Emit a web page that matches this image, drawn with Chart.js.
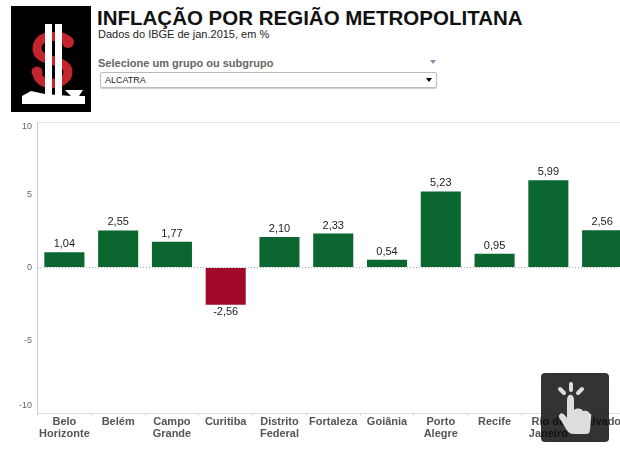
<!DOCTYPE html>
<html lang="pt">
<head>
<meta charset="utf-8">
<title>Inflação por região metropolitana</title>
<script src="https://cdn.jsdelivr.net/npm/chart.js@4/dist/chart.umd.min.js"></script>
<style>
    html, body { margin: 0; padding: 0; width: 620px; height: 455px; overflow: hidden; background: #fff; font-family: "Liberation Sans", Arial, sans-serif; }
    #logo { position: absolute; left: 11px; top: 6px; }
    h1 { position: absolute; left: 97px; top: 7px; margin: 0; font-size: 20.5px; line-height: 22px; font-weight: bold; color: #111; white-space: nowrap; }
    #sub { position: absolute; left: 98px; top: 28px; font-size: 11px; line-height: 13px; color: #222; }
    #filtro { position: absolute; left: 98px; top: 57px; font-size: 11px; line-height: 13px; font-weight: bold; color: #666; }
    #seta { position: absolute; left: 430px; top: 60px; width: 0; height: 0; border-left: 3px solid transparent; border-right: 3px solid transparent; border-top: 4px solid #8a8ab0; }
    #combo { position: absolute; left: 100px; top: 72px; width: 337px; height: 16px; box-sizing: border-box; border: 1px solid #bbb; border-radius: 2px; box-shadow: 0 1px 1px #ccc; font-size: 9px; line-height: 14px; padding-left: 4px; color: #222; }
    #combo i { position: absolute; right: 4px; top: 5px; width: 0; height: 0; border-left: 3px solid transparent; border-right: 3px solid transparent; border-top: 4px solid #000; }
    #chart-box { position: absolute; left: 0; top: 110px; width: 640px; height: 345px; }
    #caixa { position: absolute; left: 541px; top: 373px; width: 68px; height: 69px; border-radius: 4px; background: #333; mix-blend-mode: multiply; }
    #hand { position: absolute; left: 541px; top: 373px; }
</style>
</head>
<body>
<svg id="logo" width="80" height="106" viewBox="0 0 80 106">
    <rect width="80" height="106" fill="#000"/>
    <path d="M57 36 C55 30 47 30.5 41 30.5 C30 30.5 26 37 26 43 C26 52 38 53 44 55 C52 58 57 60 57 66 C57 74 48 77.5 40 77.5 C32 77.5 26 73 26 66" fill="none" stroke="#c4242b" stroke-width="9"/>
    <circle cx="57" cy="36" r="6" fill="#c4242b"/>
    <circle cx="26" cy="66" r="5.5" fill="#c4242b"/>
    <rect x="34" y="18" width="7" height="72" fill="#fff"/>
    <rect x="44" y="18" width="7" height="72" fill="#fff"/>
    <path d="M11 98 L11 90 L20 85 L34 88 L60 90 L54 84 L72 84 L68 90 L74 90 L74 98 Z" fill="#fff"/>
</svg>
<h1>INFLAÇÃO POR REGIÃO METROPOLITANA</h1>
<div id="sub">Dados do IBGE de jan.2015, em %</div>
<div id="filtro">Selecione um grupo ou subgrupo</div>
<div id="seta"></div>
<div id="combo">ALCATRA<i></i></div>
<div id="chart-box"><canvas id="grafico" width="640" height="345"></canvas></div>
<div id="caixa"></div>
<svg id="hand" width="68" height="69" viewBox="0 0 68 69">
    <g stroke="#ddd" stroke-width="4" stroke-linecap="round">
        <line x1="30" y1="11" x2="30" y2="17"/>
        <line x1="19" y1="16" x2="23" y2="20"/>
        <line x1="41" y1="16" x2="37" y2="20"/>
    </g>
    <path d="M26 27 C26 20 33 20 33 27 L33 37 C36 35 40 35 42 38 C45 37 48 38 49 41 C51 40 50 42 50 46 L49 57 C49 60 47 61 45 61 L33 61 C29 61 27 59 25 56 L21 49 C18 45 17 43 19 41 C21 39 23 41 26 45 Z" fill="#ddd"/>
</svg>
<script>
// Dados
const regioes = [['Belo', 'Horizonte'], 'Belém', ['Campo', 'Grande'], 'Curitiba', ['Distrito', 'Federal'], 'Fortaleza', 'Goiânia', ['Porto', 'Alegre'], 'Recife', ['Rio de', 'Janeiro'], 'Salvador'];
const inflacao = [1.04, 2.55, 1.77, -2.56, 2.10, 2.33, 0.54, 5.23, 0.95, 5.99, 2.56];
const ticksY = [10, 5, 0, -5, -10];

const verde = '#0b6630';
const vermelho = '#a00a28';

function virgula(v) {
    return v.toFixed(2).replace('.', ',');
}

// Rotulos dos valores e do eixo y
const rotulos = {
    id: 'rotulos',
    afterDatasetsDraw(chart) {
        const ctx = chart.ctx;
        const x = chart.scales.x;
        const y = chart.scales.y;
        ctx.save();
        ctx.textAlign = 'center';
        ctx.textBaseline = 'middle';
        ctx.font = '11px "Liberation Sans"';
        ctx.fillStyle = '#222';
        inflacao.forEach((v, i) => {
            const py = y.getPixelForValue(v) + (v < 0 ? 7 : -8);
            ctx.fillText(virgula(v), x.getPixelForValue(i), py);
        });
        ctx.textAlign = 'right';
        ctx.font = '9px "Liberation Sans"';
        ctx.fillStyle = '#666';
        ticksY.forEach(t => {
            // os extremos ficam para dentro, como no original
            const ajuste = t === 10 ? 5 : t === -10 ? -7 : 0;
            ctx.fillText(String(t), 32, y.getPixelForValue(t) + ajuste);
        });
        ctx.restore();
    }
};

new Chart(document.getElementById('grafico'), {
    type: 'bar',
    data: {
        labels: regioes,
        datasets: [{
            data: inflacao,
            backgroundColor: inflacao.map(v => v < 0 ? vermelho : verde),
            categoryPercentage: 1,
            barPercentage: 0.745
        }]
    },
    options: {
        responsive: false,
        animation: false,
        layout: { padding: { top: 12, right: 11, left: 0, bottom: 0 } },
        plugins: { legend: { display: false }, tooltip: { enabled: false } },
        scales: {
            x: {
                afterFit: s => { s.height = 42; },
                grid: { drawOnChartArea: false, color: '#ddd', tickLength: 3, offset: true },
                border: { color: '#ddd' },
                ticks: {
                    maxRotation: 0, autoSkip: false, padding: 0, color: '#555',
                    font: { family: '"Liberation Sans"', size: 11, weight: 'bold', lineHeight: 1.1 }
                }
            },
            y: {
                min: -10,
                max: 10,
                afterFit: s => { s.width = 37.5; },
                afterBuildTicks: s => { s.ticks = ticksY.map(v => ({ value: v })); },
                ticks: { display: false },
                border: { color: '#ccc', dash: c => c.tick && c.tick.value === 0 ? [1, 2] : [] },
                grid: {
                    drawTicks: false,
                    color: c => c.tick.value === 0 ? '#aaa' : c.tick.value === 10 ? '#e6e6e6' : 'transparent'
                }
            }
        }
    },
    plugins: [rotulos]
});
</script>
</body>
</html>
